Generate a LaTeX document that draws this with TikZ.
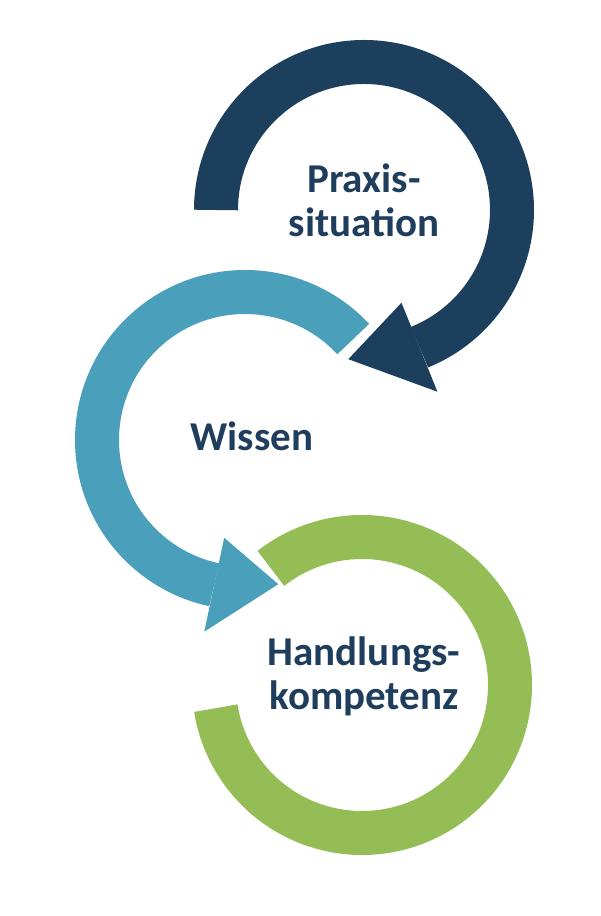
\documentclass[tikz,border=0pt]{standalone}
\usepackage{fontspec}
\setmainfont{Carlito}
\usetikzlibrary{calc}
\definecolor{navy}{RGB}{29,63,94}
\definecolor{teal}{RGB}{74,160,187}
\definecolor{lime}{RGB}{149,189,85}
\definecolor{txt}{RGB}{31,61,92}
\tikzset{ring/.style={line width=44pt},
  label/.style={font=\fontsize{41}{44}\selectfont\bfseries,text=txt,align=center,inner sep=0pt}}
\begin{document}
\begin{tikzpicture}[x=1pt,y=1pt]
\useasboundingbox (0,0) rectangle (600,916);
% centres
\coordinate (cp) at (364,706);
\coordinate (cw) at (245,476);
\coordinate (ch) at (362,231);
% Praxis ring
\draw[ring,navy] ($(cp)+(180:148)$) arc[start angle=180,end angle=-68,radius=148];
\fill[navy] ($(cp)+(-68:100)$) -- ($(cp)+(-68:196)$) -- ($(cp)+(-96:150)$) -- cycle;
% Wissen ring
\draw[ring,teal] ($(cw)+(43:148)$) arc[start angle=43,end angle=258,radius=148];
\fill[teal] ($(cw)+(258:100)$) -- ($(cw)+(258:196)$) -- ($(cw)+(283:148)$) -- cycle;
% Handlung ring
\draw[ring,lime] ($(ch)+(128:148)$) arc[start angle=128,end angle=-171,radius=148];
% Text
\node[label] (praxis) at (364,716) {Praxis-\\situation};
\node[label] (wissen) at (252,480) {Wissen};
\node[label] (handlung) at (364,240) {Handlungs-\\kompetenz};
\end{tikzpicture}
\end{document}
